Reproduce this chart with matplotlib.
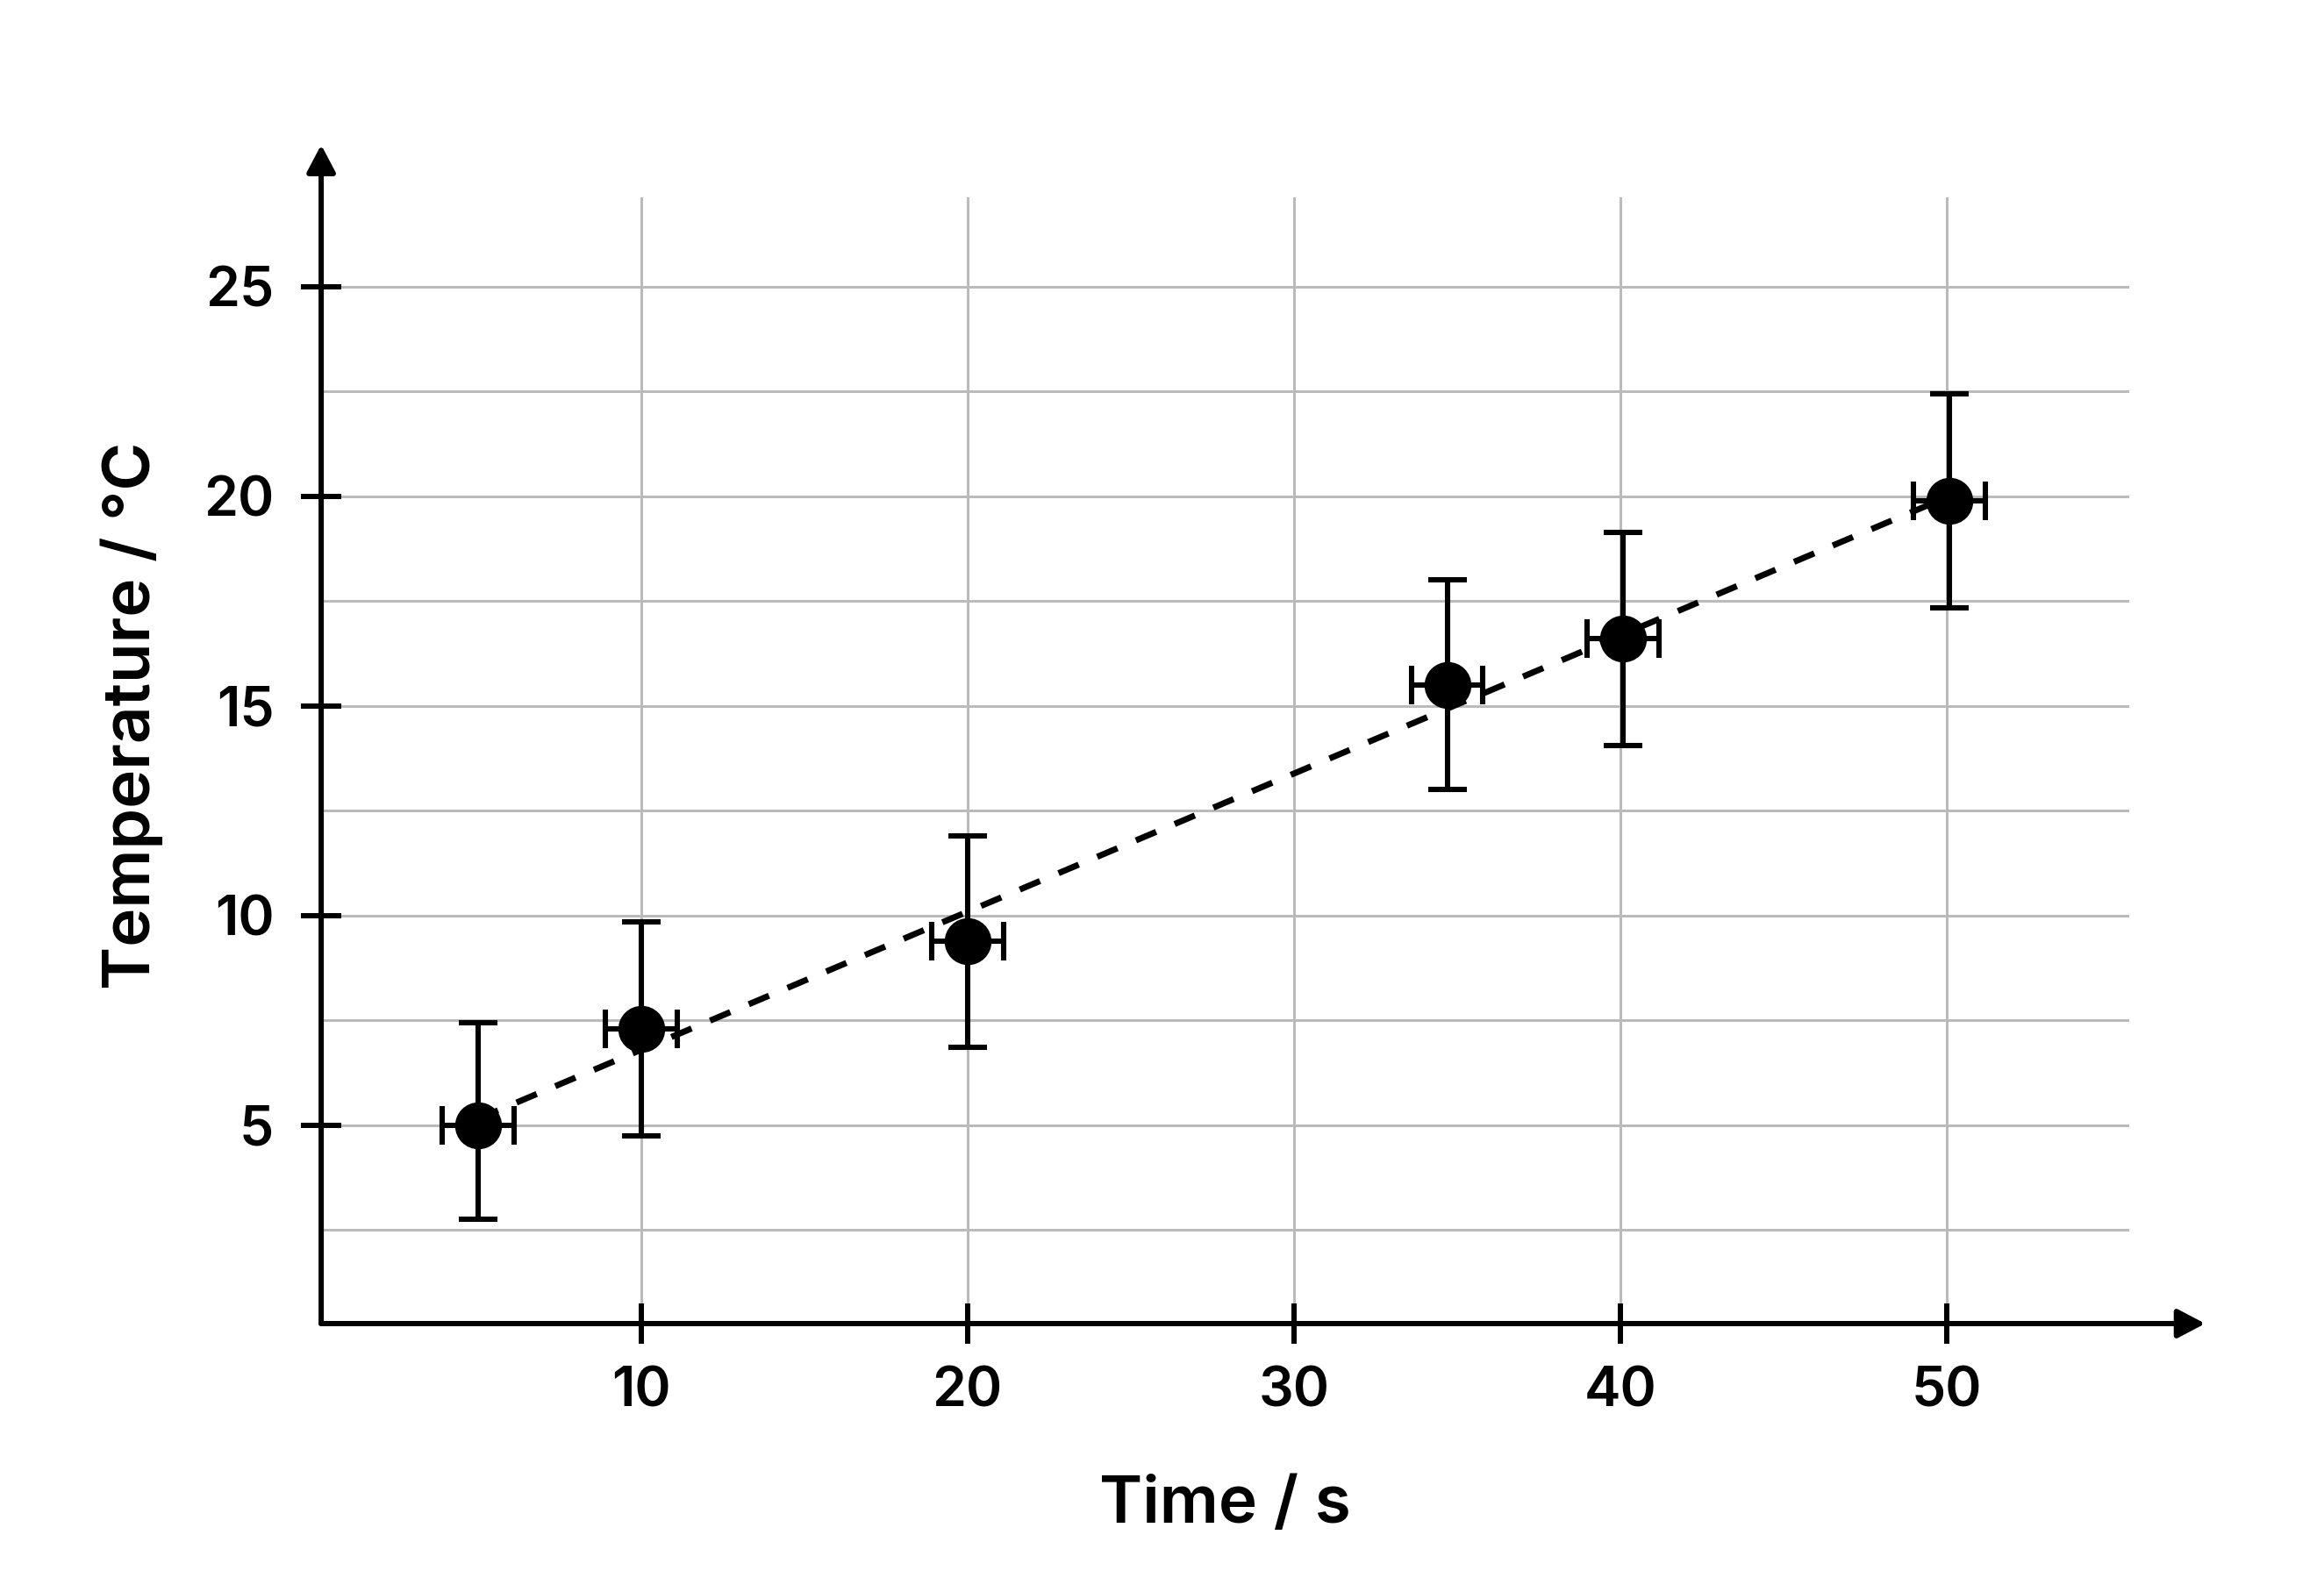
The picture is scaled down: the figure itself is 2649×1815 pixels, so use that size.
import matplotlib
matplotlib.use("Agg")
import matplotlib.pyplot as plt
import numpy as np

#----- data -----
time_s = [5, 10, 20, 34.7, 40.1, 50.1]
temp_c = [5.0, 7.3, 9.4, 15.5, 16.6, 19.9]
temp_err_low = [2.25, 2.55, 2.55, 2.5, 2.55, 2.55]
temp_err_high = [2.45, 2.55, 2.5, 2.5, 2.55, 2.55]
time_err = [1.1, 1.1, 1.1, 1.1, 1.1, 1.1]

x_ticks = [10, 20, 30, 40, 50]
y_ticks = [5, 10, 15, 20, 25]
y_minor = [2.5, 7.5, 12.5, 17.5, 22.5]

plt.rcParams['font.family'] = ['Inter', 'DejaVu Sans']

#----- figure -----
fig = plt.figure(figsize=(2649 / 250, 1815 / 250), dpi=250)
ax = fig.add_axes([0.1382, 0.1686, 0.778, 0.7074])
ax.set_xlim(0.2, 55.6)
ax.set_ylim(0.27, 27.13)

ax.set_xticks(x_ticks)
ax.set_yticks(y_ticks)
ax.set_yticks(y_minor, minor=True)
ax.set_axisbelow(True)
ax.xaxis.grid(True, which='major', color='#bbbbbb', lw=0.86)
ax.yaxis.grid(True, which='both', color='#bbbbbb', lw=0.86)

for s in ax.spines.values():
    s.set_visible(False)

ax.tick_params(axis='both', which='major', direction='inout', length=13,
               width=1.73, color='black', labelsize=18)
ax.tick_params(axis='y', which='minor', length=0)
ax.tick_params(axis='x', pad=7.5)
ax.tick_params(axis='y', pad=9)
for lab in ax.get_xticklabels() + ax.get_yticklabels():
    lab.set_fontweight('semibold')

# axis lines with arrow heads
arrow = dict(arrowstyle='-|>,head_length=0.38,head_width=0.2', lw=1.73,
             color='black', shrinkA=0, shrinkB=0, mutation_scale=20)
ax.annotate('', xy=(1.042, 0), xytext=(0, 0), xycoords='axes fraction',
            arrowprops=arrow, annotation_clip=False)
ax.annotate('', xy=(0, 1.0467), xytext=(0, 0), xycoords='axes fraction',
            arrowprops=arrow, annotation_clip=False)

#----- data -----
ax.errorbar(time_s, temp_c, xerr=time_err, yerr=[temp_err_low, temp_err_high],
            fmt='o', ms=14.4, color='black', ecolor='black', elinewidth=1.75,
            capsize=6.3, capthick=1.75, zorder=3)

# best fit line
coef = np.polyfit(time_s, temp_c, 1)
fit_x = np.array([min(time_s), max(time_s)])
ax.plot(fit_x, np.polyval(coef, fit_x), color='black', lw=2.0,
        ls=(0, (3.6, 3.3)), zorder=4)

#----- labels -----
ax.set_xlabel('Time / s', fontsize=21.5, fontweight='semibold')
ax.set_ylabel('Temperature / °C', fontsize=21.5, fontweight='semibold')
ax.xaxis.set_label_coords(0.5, -0.135)
ax.yaxis.set_label_coords(-0.0875, 0.54)

fig.savefig('out.png', dpi=250, facecolor='white')
